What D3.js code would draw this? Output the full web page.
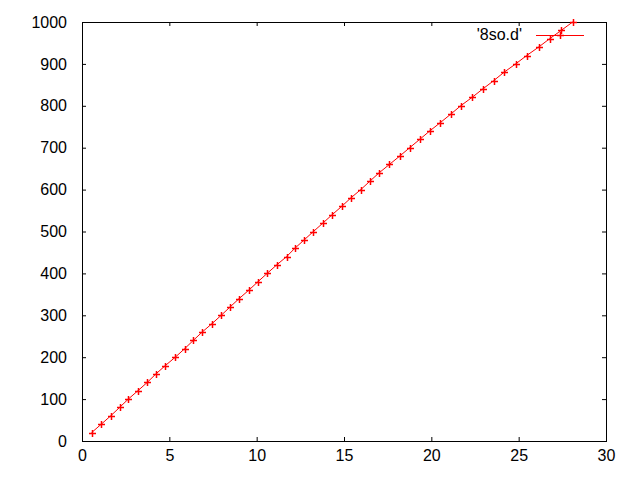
<!DOCTYPE html>
<html>
<head>
<meta charset="utf-8">
<script src="https://cdn.jsdelivr.net/npm/d3@7"></script>
<style>
  body { margin: 0; background: #fff; }
  svg text { font-family: "Liberation Sans", Arial, sans-serif; font-size: 16px; fill: #000; }
</style>
</head>
<body>
<svg width="640" height="480"></svg>
<script>
var xValues = [0.55, 1.10, 1.64, 2.15, 2.65, 3.20, 3.74, 4.23, 4.77, 5.34,
               5.87, 6.37, 6.88, 7.44, 7.97, 8.48, 9.00, 9.55, 10.07, 10.60,
               11.14, 11.71, 12.19, 12.72, 13.25, 13.79, 14.32, 14.87, 15.39, 15.96,
               16.48, 17.01, 17.60, 18.19, 18.76, 19.34, 19.91, 20.52, 21.11, 21.68,
               22.33, 22.94, 23.57, 24.16, 24.83, 25.46, 26.14, 26.77, 27.44, 28.09];
var yValues = [20, 40, 60, 80, 100, 120, 140, 160, 180, 200,
               220, 240, 260, 280, 300, 320, 340, 360, 380, 400,
               420, 440, 460, 480, 500, 520, 540, 560, 580, 600,
               620, 640, 660, 680, 700, 720, 740, 760, 780, 800,
               820, 840, 860, 880, 900, 920, 940, 960, 980, 1000];
var xTicks = [0, 5, 10, 15, 20, 25, 30];
var yTicks = [0, 100, 200, 300, 400, 500, 600, 700, 800, 900, 1000];
var seriesName = "'8so.d'";

var svg = d3.select("svg");
var pLeft = 82, pRight = 606, pTop = 22, pBottom = 441;

var x = d3.scaleLinear().domain([0, 30]).range([pLeft, pRight]);
var y = d3.scaleLinear().domain([0, 1000]).range([pBottom, pTop]);

var points = xValues.map(function(d, i) { return [d, yValues[i]]; });

// axes, ticks pointing inward on all four sides
var gx = svg.append("g").attr("transform", "translate(0," + pBottom + ")")
  .call(d3.axisBottom(x).tickValues(xTicks).tickSize(-4).tickPadding(9).tickFormat(d3.format("d")));
var gx2 = svg.append("g").attr("transform", "translate(0," + pTop + ")")
  .call(d3.axisTop(x).tickValues(xTicks).tickSize(-4).tickFormat(""));
var gy = svg.append("g").attr("transform", "translate(" + pLeft + ",0)")
  .call(d3.axisLeft(y).tickValues(yTicks).tickSize(-4).tickPadding(15).tickFormat(d3.format("d")));
var gy2 = svg.append("g").attr("transform", "translate(" + pRight + ",0)")
  .call(d3.axisRight(y).tickValues(yTicks).tickSize(-4).tickFormat(""));

[gx, gx2, gy, gy2].forEach(function(g) {
  g.select(".domain").remove();
  g.selectAll("text").attr("font-family", null).attr("font-size", null);
  g.selectAll("line").attr("stroke", "#000");
});

svg.append("rect")
  .attr("x", pLeft + 0.5).attr("y", pTop + 0.5)
  .attr("width", pRight - pLeft).attr("height", pBottom - pTop)
  .attr("fill", "none").attr("stroke", "#000");

// legend
svg.append("text").attr("x", 522).attr("y", 40).attr("text-anchor", "end").text(seriesName);
svg.append("line").attr("x1", 536).attr("x2", 584).attr("y1", 35.5).attr("y2", 35.5)
  .attr("stroke", "red");

var line = d3.line().x(function(d) { return x(d[0]); }).y(function(d) { return y(d[1]); });
svg.append("path").datum(points).attr("d", line)
  .attr("fill", "none").attr("stroke", "red").attr("stroke-width", 1);

var plus = function(cx, cy) {
  var s = 3.5;
  return "M" + (cx - s) + "," + cy + "H" + (cx + s) + "M" + cx + "," + (cy - s) + "V" + (cy + s);
};
svg.append("g").selectAll("path")
  .data(points)
  .enter()
  .append("path")
  .attr("d", function(d) { return plus(Math.round(x(d[0])) + 0.5, Math.round(y(d[1])) + 0.5); })
  .attr("stroke", "red").attr("stroke-width", 1.5).attr("fill", "none");

svg.append("path").attr("d", plus(560.5, 35.5)).attr("stroke", "red").attr("stroke-width", 1.5);
</script>
</body>
</html>
